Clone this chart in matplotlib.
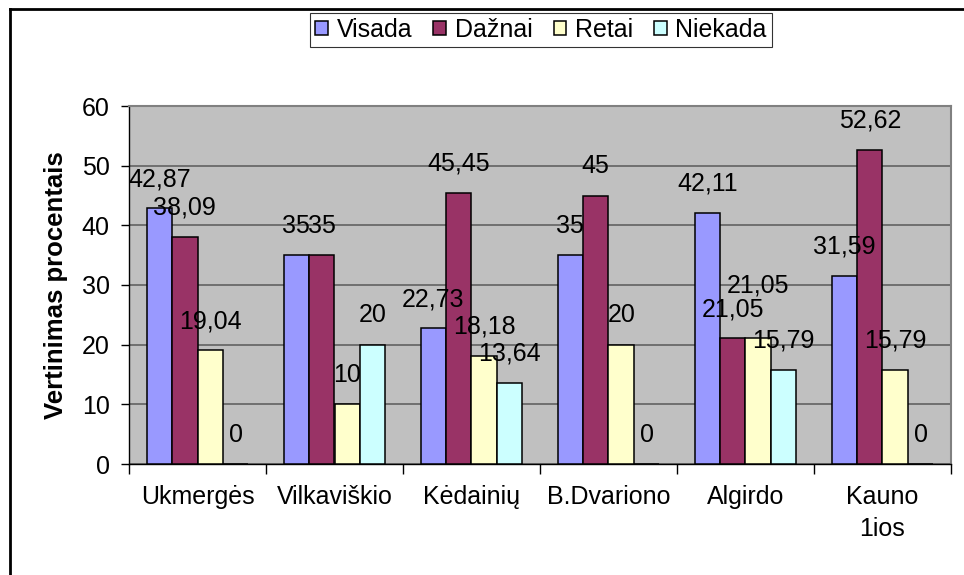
import numpy as np
import matplotlib
matplotlib.use('Agg')
import matplotlib.pyplot as plt
from matplotlib.lines import Line2D

plt.rcParams['font.family'] = ['Liberation Sans', 'DejaVu Sans']

# Duomenys
categories = ['Ukmergės', 'Vilkaviškio', 'Kėdainių', 'B.Dvariono', 'Algirdo', 'Kauno\n1ios']
series_names = ['Visada', 'Dažnai', 'Retai', 'Niekada']
visada = [42.87, 35, 22.73, 35, 42.11, 31.59]
daznai = [38.09, 35, 45.45, 45, 21.05, 52.62]
retai = [19.04, 10, 18.18, 20, 21.05, 15.79]
niekada = [0, 20, 13.64, 0, 15.79, 0]
colors = ['#9999FF', '#993366', '#FFFFCC', '#CCFFFF']

# Excel perkėlė vieną etiketę aukščiau (serija, kategorija): papildomas poslinkis taškais
label_shift = {(2, 4): 17}

fig = plt.figure(figsize=(9.64, 5.75), dpi=100)
ax = fig.add_axes([129 / 964, 1 - 464 / 575, (951 - 129) / 964, (464 - 106) / 575])
ax.set_facecolor('#C0C0C0')

x = np.arange(len(categories))
w = 0.186
series = [visada, daznai, retai, niekada]
for i, (vals, name, col) in enumerate(zip(series, series_names, colors)):
    xs = x + (i - 1.5) * w
    ax.bar(xs, vals, w, color=col, edgecolor='black', linewidth=1.1, label=name, zorder=3)
    # Reikšmių etiketės
    for j, (xi, v) in enumerate(zip(xs, vals)):
        txt = ('%g' % v).replace('.', ',')
        dy = 21 + label_shift.get((i, j), 0)
        ax.annotate(txt, (xi, v), xytext=(0, dy), textcoords='offset points',
                    ha='center', va='center', fontsize=18, zorder=4)

ax.set_xlim(-0.5, len(categories) - 0.5)
ax.set_ylim(0, 60)
ax.set_yticks(np.arange(0, 61, 10))
ax.yaxis.grid(True, color='#5a5a5a', linewidth=1.1, zorder=0)
ax.tick_params(axis='y', labelsize=18, length=6, width=1, direction='out', pad=8)

# Kategorijų žymės tarp grupių
ax.set_xticks(np.arange(-0.5, len(categories), 1))
ax.set_xticklabels([])
ax.set_xticks(x, minor=True)
ax.set_xticklabels(categories, minor=True, fontsize=18, linespacing=1.45)
ax.tick_params(axis='x', which='major', length=7, width=1, direction='out')
ax.tick_params(axis='x', which='minor', length=0, pad=15)

for s in ['top', 'right']:
    ax.spines[s].set_color('#808080')
    ax.spines[s].set_linewidth(1.5)
for s in ['left', 'bottom']:
    ax.spines[s].set_color('black')
    ax.spines[s].set_linewidth(1)

ax.set_ylabel('Vertinimas procentais', fontsize=18.5, fontweight='bold', labelpad=10)

leg = fig.legend(loc='center', bbox_to_anchor=(541 / 964, 1 - 30 / 575), ncol=4,
                 fontsize=18, frameon=True, fancybox=False, handlelength=0.5,
                 handleheight=0.5, handletextpad=0.35, columnspacing=0.85,
                 borderpad=0.2, borderaxespad=0)
leg.get_frame().set_edgecolor('black')
leg.get_frame().set_linewidth(0.8)

# Rėmelis aplink diagramą
x0, y0 = 10 / 964, 1 - 9 / 575
fig.add_artist(Line2D([x0, x0], [0, y0], color='black', linewidth=2))
fig.add_artist(Line2D([x0, 1], [y0, y0], color='black', linewidth=2))

fig.savefig('out.png', dpi=100)
